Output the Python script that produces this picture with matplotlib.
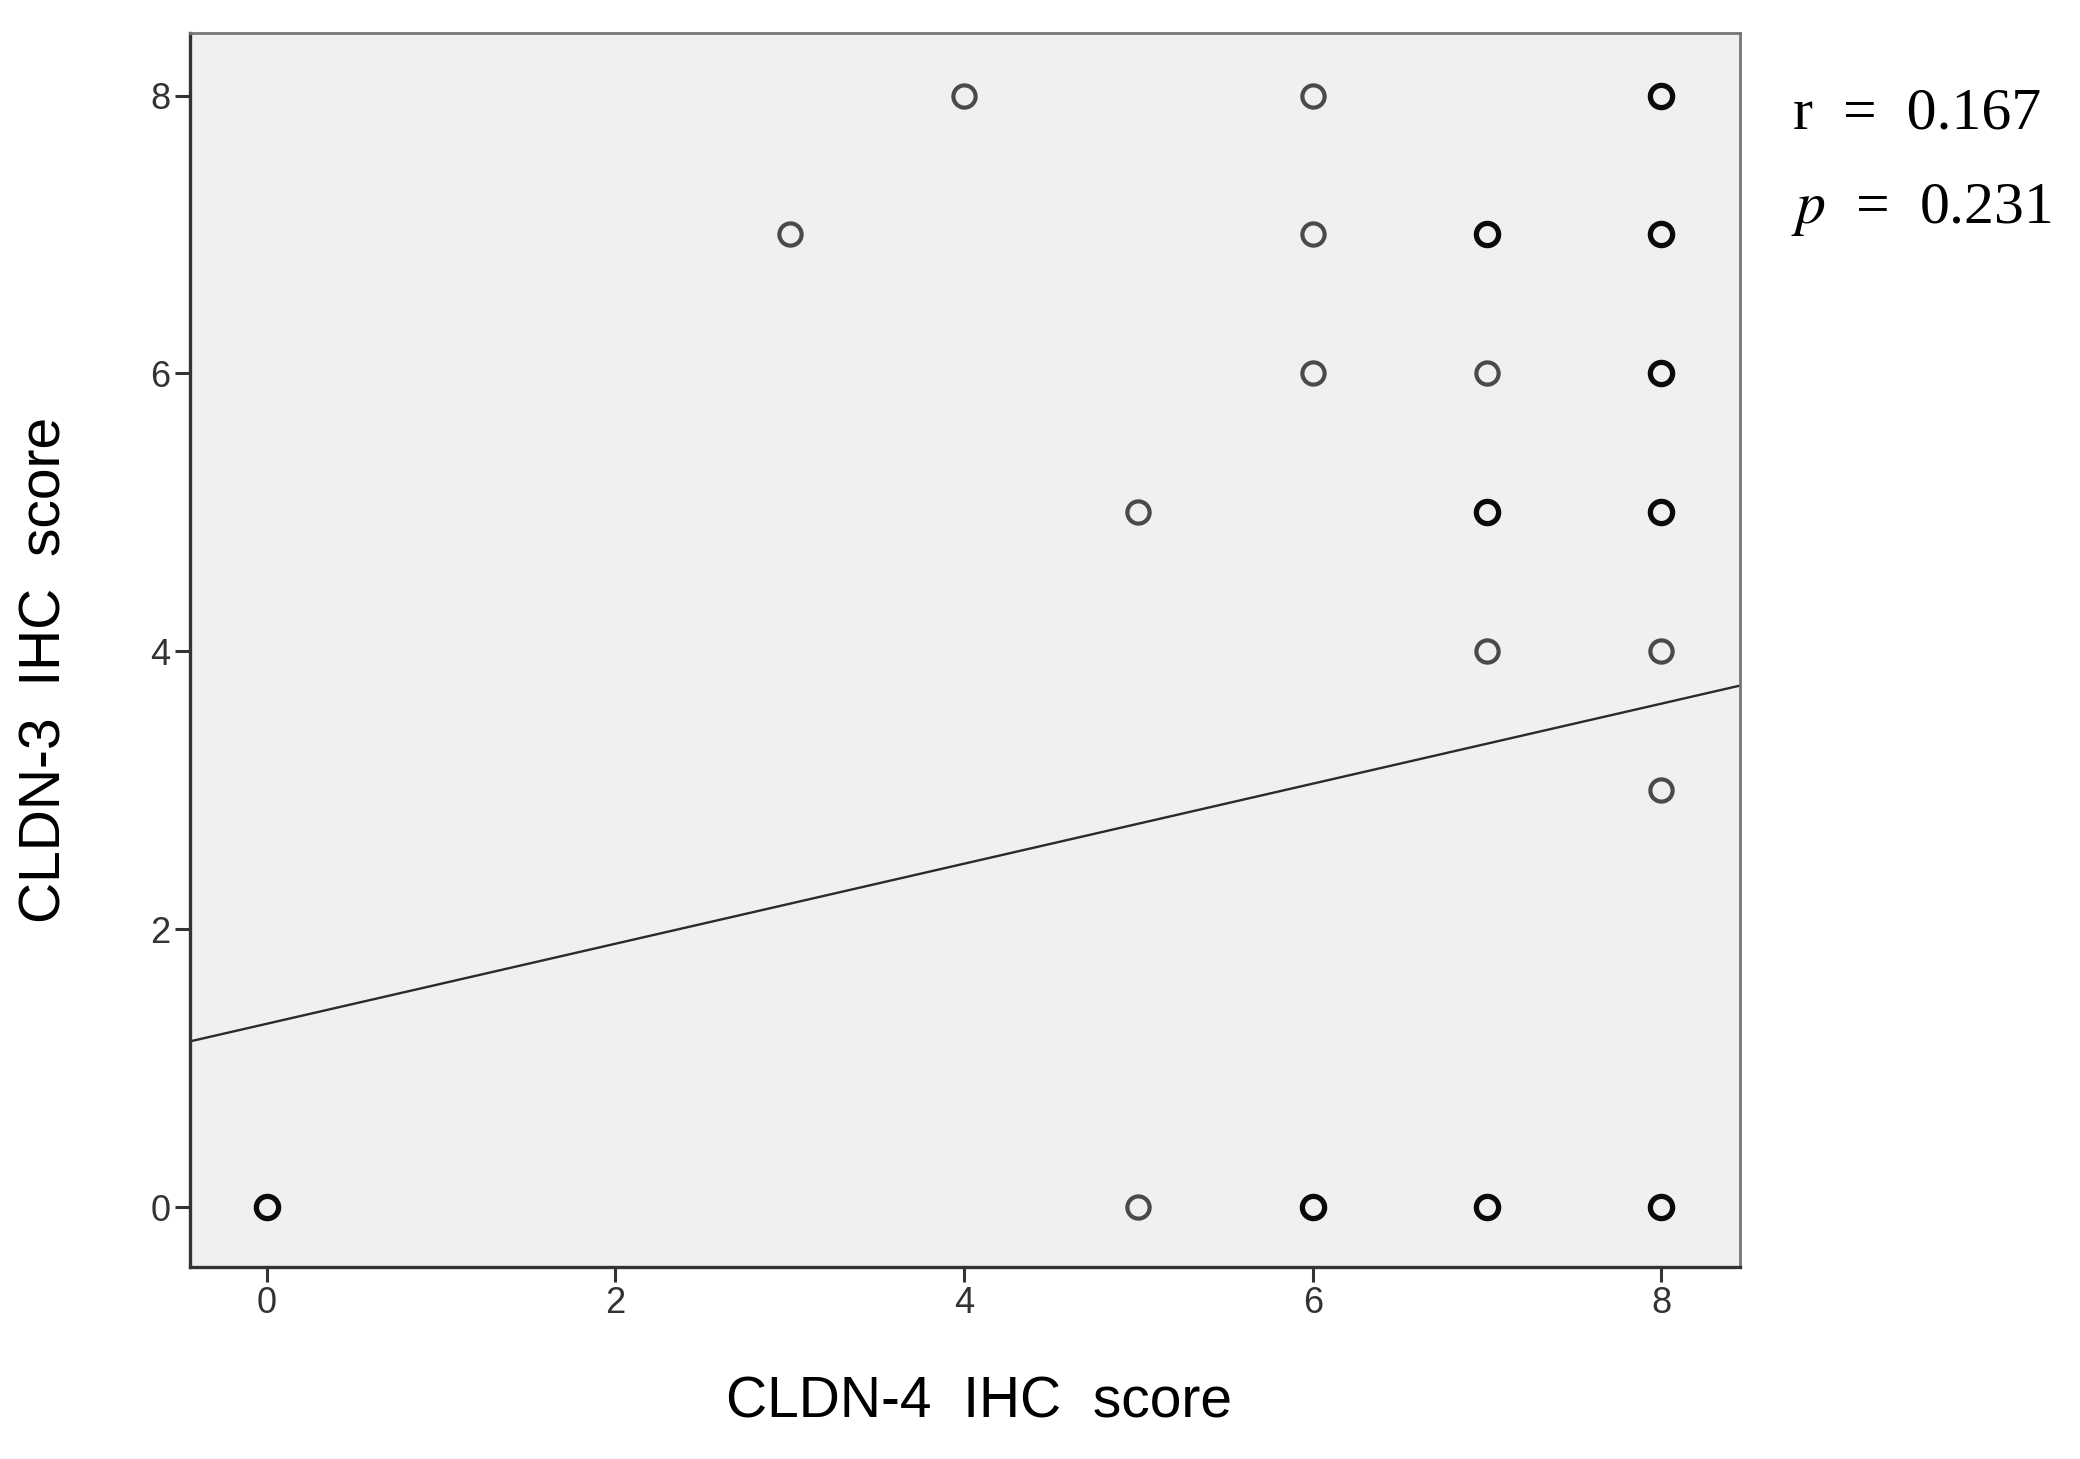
import matplotlib
matplotlib.use("Agg")
import matplotlib.pyplot as plt
import numpy as np

# Points. "stacked" marks circles drawn darker
# (several cases on the same spot).
CLDN4 = [0, 3, 4, 5, 5, 6, 6, 6, 6, 7, 7, 7, 7, 7, 8, 8, 8, 8, 8, 8, 8]
CLDN3 = [0, 7, 8, 5, 0, 8, 7, 6, 0, 7, 6, 5, 4, 0, 8, 7, 6, 5, 4, 3, 0]
STACKED = [1, 0, 0, 0, 0, 0, 0, 0, 1, 1, 0, 1, 0, 1, 1, 1, 1, 1, 0, 0, 1]

# Fit line
FIT_INTERCEPT = 1.32
FIT_SLOPE = 0.288

R_TEXT = "0.167"
P_TEXT = "0.231"

TICKS = [0, 2, 4, 6, 8]

fig = plt.figure(figsize=(20.8, 14.59), dpi=100)
ax = fig.add_axes([0.0913, 0.1316, 0.7452, 0.8458])
ax.set_facecolor("#f0f0f0")

x = np.array(CLDN4, dtype=float)
y = np.array(CLDN3, dtype=float)
st = np.array(STACKED, dtype=bool)

ax.plot(x[~st], y[~st], ls="none", marker="o", ms=16, mfc="none",
        mec="#4a4a4a", mew=3.0, zorder=3)
ax.plot(x[st], y[st], ls="none", marker="o", ms=16, mfc="none",
        mec="#0a0a0a", mew=3.8, zorder=3)

xlim = (-0.44, 8.45)
xx = np.array(xlim)
ax.plot(xx, FIT_INTERCEPT + FIT_SLOPE * xx, color="#2a2a2a", lw=1.7, zorder=2)

ax.set_xlim(*xlim)
ax.set_ylim(-0.43, 8.45)
ax.set_xticks(TICKS)
ax.set_yticks(TICKS)

for side in ("left", "bottom"):
    ax.spines[side].set_color("#333333")
    ax.spines[side].set_linewidth(2.4)
for side in ("top", "right"):
    ax.spines[side].set_color("#777777")
    ax.spines[side].set_linewidth(2.0)

ax.tick_params(axis="both", direction="out", length=11, width=2.2,
               color="#333333", labelsize=26, labelcolor="#333333", pad=3)
for lab in ax.get_xticklabels() + ax.get_yticklabels():
    lab.set_family("Liberation Sans")

ax.set_xlabel("CLDN-4  IHC  score", fontsize=41, family="Liberation Sans")
ax.set_ylabel("CLDN-3  IHC  score", fontsize=41, family="Liberation Sans")
ax.xaxis.set_label_coords(0.509, -0.088)
ax.yaxis.set_label_coords(-0.076, 0.484)

fig.text(0.862, 0.9116, "r  =  " + R_TEXT, fontsize=43,
         family="Liberation Serif", va="baseline", ha="left")
fig.text(0.861, 0.847, "$\\it{p}$  =  " + P_TEXT, fontsize=43,
         family="Liberation Serif", va="baseline", ha="left",
         math_fontfamily="stix")

fig.savefig("out.png", dpi=100)
